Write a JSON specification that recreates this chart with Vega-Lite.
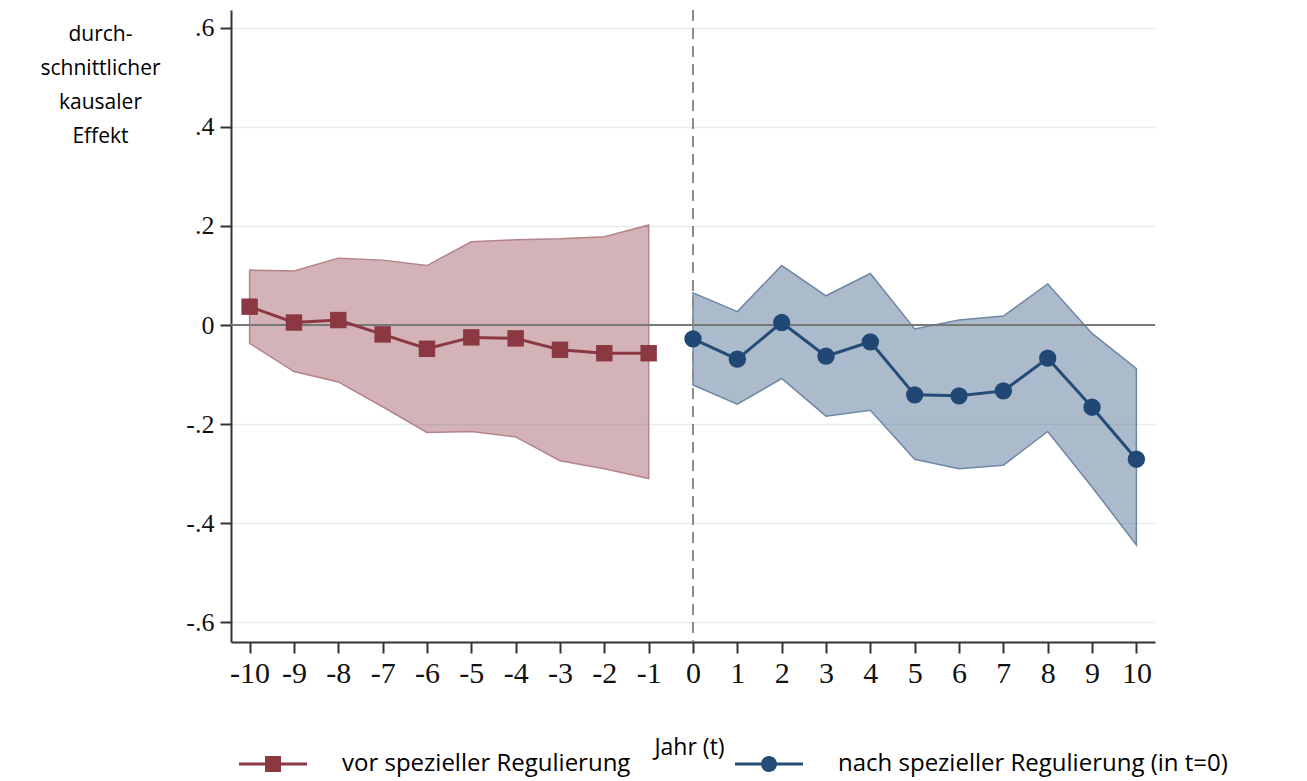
{
  "$schema": "https://vega.github.io/schema/vega-lite/v6.json",
  "width": 924,
  "height": 632,
  "autosize": {"type": "none"},
  "padding": {"left": 231, "top": 10, "right": 152, "bottom": 139},
  "background": "white",
  "config": {"view": {"stroke": null}, "font": "Open Sans"},
  "data": {"values": [
    {"t": -10, "est": 0.037, "lo": -0.037, "hi": 0.111, "grp": "vor spezieller Regulierung"},
    {"t": -9, "est": 0.005, "lo": -0.094, "hi": 0.109, "grp": "vor spezieller Regulierung"},
    {"t": -8, "est": 0.010, "lo": -0.115, "hi": 0.135, "grp": "vor spezieller Regulierung"},
    {"t": -7, "est": -0.019, "lo": -0.165, "hi": 0.131, "grp": "vor spezieller Regulierung"},
    {"t": -6, "est": -0.048, "lo": -0.217, "hi": 0.120, "grp": "vor spezieller Regulierung"},
    {"t": -5, "est": -0.025, "lo": -0.215, "hi": 0.168, "grp": "vor spezieller Regulierung"},
    {"t": -4, "est": -0.027, "lo": -0.226, "hi": 0.172, "grp": "vor spezieller Regulierung"},
    {"t": -3, "est": -0.050, "lo": -0.274, "hi": 0.174, "grp": "vor spezieller Regulierung"},
    {"t": -2, "est": -0.057, "lo": -0.290, "hi": 0.178, "grp": "vor spezieller Regulierung"},
    {"t": -1, "est": -0.057, "lo": -0.310, "hi": 0.202, "grp": "vor spezieller Regulierung"},
    {"t": 0, "est": -0.028, "lo": -0.121, "hi": 0.065, "grp": "nach spezieller Regulierung (in t=0)"},
    {"t": 1, "est": -0.069, "lo": -0.160, "hi": 0.027, "grp": "nach spezieller Regulierung (in t=0)"},
    {"t": 2, "est": 0.005, "lo": -0.108, "hi": 0.120, "grp": "nach spezieller Regulierung (in t=0)"},
    {"t": 3, "est": -0.063, "lo": -0.184, "hi": 0.059, "grp": "nach spezieller Regulierung (in t=0)"},
    {"t": 4, "est": -0.034, "lo": -0.172, "hi": 0.104, "grp": "nach spezieller Regulierung (in t=0)"},
    {"t": 5, "est": -0.141, "lo": -0.271, "hi": -0.008, "grp": "nach spezieller Regulierung (in t=0)"},
    {"t": 6, "est": -0.143, "lo": -0.290, "hi": 0.010, "grp": "nach spezieller Regulierung (in t=0)"},
    {"t": 7, "est": -0.133, "lo": -0.283, "hi": 0.018, "grp": "nach spezieller Regulierung (in t=0)"},
    {"t": 8, "est": -0.067, "lo": -0.215, "hi": 0.083, "grp": "nach spezieller Regulierung (in t=0)"},
    {"t": 9, "est": -0.166, "lo": -0.327, "hi": -0.017, "grp": "nach spezieller Regulierung (in t=0)"},
    {"t": 10, "est": -0.271, "lo": -0.444, "hi": -0.088, "grp": "nach spezieller Regulierung (in t=0)"}
  ]},
  "layer": [
    {
      "transform": [{"filter": "datum.grp === 'vor spezieller Regulierung'"}],
      "mark": {"type": "area", "fill": "#8b3843", "fillOpacity": 0.38, "stroke": "#b5838a", "strokeWidth": 1.5},
      "encoding": {
        "x": {
          "field": "t", "type": "quantitative",
          "scale": {"domain": [-10.42, 10.42], "nice": false, "zero": false},
          "axis": {
            "values": [-10,-9,-8,-7,-6,-5,-4,-3,-2,-1,0,1,2,3,4,5,6,7,8,9,10],
            "labelExpr": "(datum.value < 0 ? '-' : '') + abs(datum.value)",
            "grid": false,
            "domainColor": "#333333", "domainWidth": 2,
            "tickColor": "#333333", "tickWidth": 2, "tickSize": 11,
            "labelFont": "Liberation Serif", "labelFontSize": 30, "labelColor": "#111111",
            "labelPadding": 5, "labelFlush": false, "labelOverlap": false,
            "title": "Jahr (t)", "titleFont": "Open Sans", "titleFontSize": 23, "titleFontWeight": "normal",
            "titleColor": "#000000", "titleX": 458, "titleY": 105, "titleAlign": "center", "titleBaseline": "middle"
          }
        },
        "y": {
          "field": "lo", "type": "quantitative",
          "scale": {"domain": [-0.64, 0.636], "nice": false, "zero": false},
          "axis": {
            "values": [-0.6,-0.4,-0.2,0,0.2,0.4,0.6],
            "labelExpr": "datum.value == 0 ? '0' : (datum.value < 0 ? '-' : '') + '.' + round(abs(datum.value) * 10)",
            "grid": true, "gridColor": "#e5eded", "gridWidth": 1.5,
            "domainColor": "#333333", "domainWidth": 2,
            "tickColor": "#333333", "tickWidth": 2, "tickSize": 11,
            "labelFont": "Liberation Serif", "labelFontSize": 26, "labelColor": "#111111",
            "labelPadding": 6,
            "title": ["durch-", "schnittlicher", "kausaler", "Effekt"],
            "titleFont": "Open Sans", "titleFontSize": 21, "titleFontWeight": "normal", "titleColor": "#000000",
            "titleAngle": 0, "titleX": -131, "titleY": 13, "titleAlign": "center", "titleBaseline": "top",
            "titleLineHeight": 34
          }
        },
        "y2": {"field": "hi"}
      }
    },
    {
      "transform": [{"filter": "datum.grp !== 'vor spezieller Regulierung'"}],
      "mark": {"type": "area", "fill": "#254b78", "fillOpacity": 0.38, "stroke": "#6f87a6", "strokeWidth": 1.5},
      "encoding": {
        "x": {"field": "t", "type": "quantitative"},
        "y": {"field": "lo", "type": "quantitative"},
        "y2": {"field": "hi"}
      }
    },
    {
      "mark": {"type": "rule", "color": "#787878", "strokeWidth": 2},
      "encoding": {"y": {"datum": 0}}
    },
    {
      "mark": {"type": "rule", "color": "#8c8c8c", "strokeWidth": 2, "strokeDash": [11, 7]},
      "encoding": {"x": {"datum": 0}}
    },
    {
      "transform": [{"filter": "datum.grp === 'vor spezieller Regulierung'"}],
      "mark": {"type": "line", "color": "#8b3843", "strokeWidth": 3},
      "encoding": {
        "x": {"field": "t", "type": "quantitative"},
        "y": {"field": "est", "type": "quantitative"}
      }
    },
    {
      "transform": [{"filter": "datum.grp !== 'vor spezieller Regulierung'"}],
      "mark": {"type": "line", "color": "#254b78", "strokeWidth": 3},
      "encoding": {
        "x": {"field": "t", "type": "quantitative"},
        "y": {"field": "est", "type": "quantitative"}
      }
    },
    {
      "transform": [{"filter": "datum.grp === 'vor spezieller Regulierung'"}],
      "mark": {"type": "point", "shape": "square", "filled": true, "color": "#8b3843", "opacity": 1, "size": 270},
      "encoding": {
        "x": {"field": "t", "type": "quantitative"},
        "y": {"field": "est", "type": "quantitative"}
      }
    },
    {
      "transform": [{"filter": "datum.grp !== 'vor spezieller Regulierung'"}],
      "mark": {"type": "point", "shape": "circle", "filled": true, "color": "#214775", "opacity": 1, "size": 300},
      "encoding": {
        "x": {"field": "t", "type": "quantitative"},
        "y": {"field": "est", "type": "quantitative"}
      }
    },
    {
      "transform": [{"filter": "datum.t > 100"}],
      "mark": {"type": "point", "filled": true, "opacity": 1},
      "encoding": {
        "x": {"field": "t", "type": "quantitative"},
        "y": {"field": "est", "type": "quantitative"},
        "color": {"field": "grp", "type": "nominal",
          "scale": {"domain": ["vor spezieller Regulierung", "nach spezieller Regulierung (in t=0)"], "range": ["#8b3843", "#254b78"]},
          "legend": {
            "orient": "none", "legendX": 30, "legendY": 742, "direction": "horizontal", "title": null,
            "padding": 0, "symbolSize": 256, "symbolStrokeWidth": 0, "symbolOpacity": 1,
            "labelFont": "Open Sans", "labelFontSize": 24, "labelColor": "#000000", "labelOffset": 57,
            "columnPadding": 104, "labelLimit": 600
          }
        },
        "shape": {"field": "grp", "type": "nominal",
          "scale": {"domain": ["vor spezieller Regulierung", "nach spezieller Regulierung (in t=0)"],
            "range": ["M-4.25,-0.19H4.25V0.19H-4.25Z M-1,-1H1V1H-1Z", "M-4.25,-0.19H4.25V0.19H-4.25Z M-1,0A1,1 0 1,1 1,0A1,1 0 1,1 -1,0Z"]},
          "legend": {
            "orient": "none", "legendX": 30, "legendY": 742, "direction": "horizontal", "title": null,
            "padding": 0, "symbolSize": 256, "symbolStrokeWidth": 0, "symbolOpacity": 1,
            "labelFont": "Open Sans", "labelFontSize": 24, "labelColor": "#000000", "labelOffset": 57,
            "columnPadding": 104, "labelLimit": 600
          }
        }
      }
    }
  ]
}
